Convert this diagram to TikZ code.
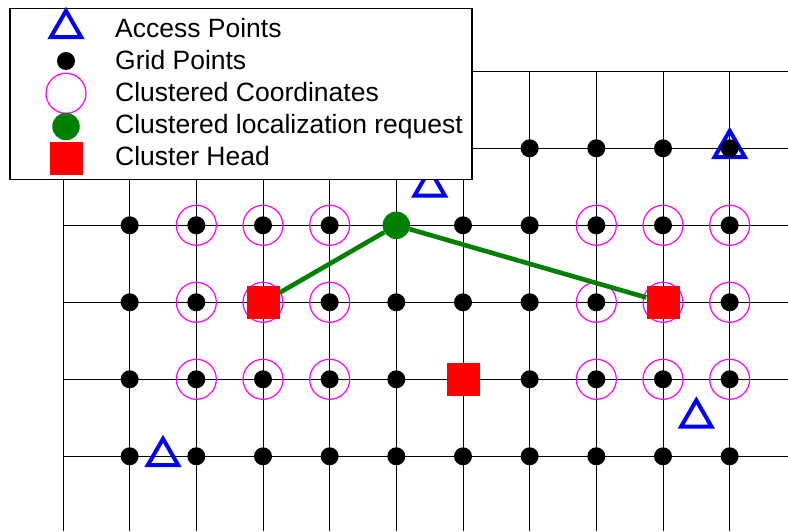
\documentclass[tikz,border=0pt]{standalone}
\usepackage{fontspec}
\setmainfont{Liberation Sans}
\usetikzlibrary{shapes.geometric}
\definecolor{reqgreen}{RGB}{0,128,0}
\definecolor{ccmagenta}{RGB}{255,0,255}
\definecolor{chred}{RGB}{255,0,0}
\definecolor{apblue}{RGB}{0,0,255}
\begin{document}
\begin{tikzpicture}[x=1pt,y=1pt,
  gridline/.style={black,line width=1pt},
  gridpt/.style={circle,fill=black,inner sep=0pt,minimum size=18pt},
  clustered/.style={circle,draw=ccmagenta,line width=1.2pt,inner sep=0pt,minimum size=40pt},
  request/.style={circle,fill=reqgreen,inner sep=0pt,minimum size=27.5pt},
  head/.style={rectangle,fill=chred,inner sep=0pt,minimum size=33pt},
  access/.style={regular polygon,regular polygon sides=3,draw=apblue,line width=4pt,inner sep=0pt,minimum size=35pt},
  link/.style={reqgreen,line width=4.6pt},
  legendbox/.style={rectangle,draw=black,fill=white,line width=1.5pt,inner sep=0pt,anchor=north west},
  legendtext/.style={anchor=base west,inner sep=0pt,font=\fontsize{26.5}{30}\selectfont}
]
\useasboundingbox (0,0) rectangle (788,531);

% grid lines
\foreach \j in {0,...,5}
  \draw[gridline] (63,{459.7-77*\j}) -- (788,{459.7-77*\j});
\foreach \i in {0,...,10}
  \draw[gridline] ({63+66.667*\i},459.7) -- ({63+66.667*\i},0);

% access points
\node[access] (ap1) at (429.7,344.2) {};
\node[access] (ap2) at (729.7,382.7) {};
\node[access] (ap3) at (163,74.7) {};
\node[access] (ap4) at (696.3,113.2) {};

% grid points
\foreach \i in {7,...,10}
  \node[gridpt] (g-\i-1) at ({63+66.667*\i},382.7) {};
\foreach \j in {2,...,5}
  \foreach \i in {1,...,10}
    \node[gridpt] (g-\i-\j) at ({63+66.667*\i},{459.7-77*\j}) {};

% clustered coordinates
\foreach \j in {2,3,4}
  \foreach \i in {2,3,4,8,9,10}
    \node[clustered] (c-\i-\j) at (g-\i-\j) {};

% localization request and cluster heads
\node[request] (req) at (g-5-2) {};
\node[head] (ch1) at (g-3-3) {};
\node[head] (ch2) at (g-9-3) {};
\node[head] (ch3) at (g-6-4) {};
\draw[link] (ch1) -- (req) -- (ch2);

% legend
\node[legendbox,minimum width=462pt,minimum height=171pt] (legend) at (9,523) {};
\node[access] (l-ap) at (66,502.7) {};
\node[gridpt] (l-gp) at (66,470) {};
\node[clustered] (l-cc) at (66,437.7) {};
\node[request] (l-req) at (66,404.5) {};
\node[head] (l-ch) at (66,372.2) {};
\node[legendtext] (t-ap) at (115,493.4) {Access Points};
\node[legendtext] (t-gp) at (115,461.5) {Grid Points};
\node[legendtext] (t-cc) at (115,429.3) {Clustered Coordinates};
\node[legendtext] (t-req) at (115,397) {Clustered localization request};
\node[legendtext] (t-ch) at (115,365) {Cluster Head};
\end{tikzpicture}
\end{document}
